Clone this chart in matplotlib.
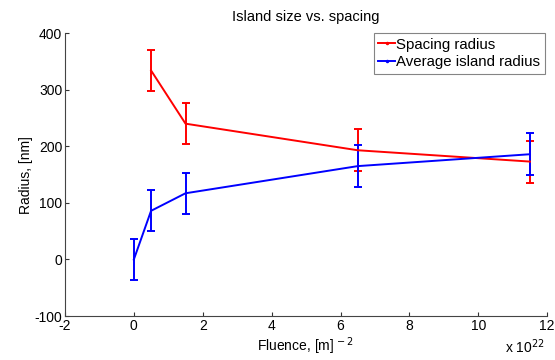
import numpy as np
import matplotlib.pyplot as plt
from matplotlib.lines import Line2D

plt.rcParams['font.family'] = ['Liberation Sans', 'DejaVu Sans']
plt.rcParams['axes.unicode_minus'] = False

# fluence in units of 1e22 m^-2
fluence_spacing = [0.5, 1.5, 6.5, 11.5]
spacing_radius = [334, 240, 193, 173]
spacing_err = [36, 36, 37, 37]

fluence_island = [0, 0.5, 1.5, 6.5, 11.5]
island_radius = [0, 86, 117, 165, 186]
island_err = [36, 36, 36, 37, 37]

fig = plt.figure(figsize=(5.55, 3.6), dpi=100)
ax = fig.add_axes([0.117, 0.122, 0.869, 0.786])

ax.errorbar(fluence_spacing, spacing_radius, yerr=spacing_err, color='red',
            lw=1.4, elinewidth=1.4, capsize=3, capthick=1.4)
ax.errorbar(fluence_island, island_radius, yerr=island_err, color='blue',
            lw=1.4, elinewidth=1.4, capsize=3, capthick=1.4)

ax.set_xlim(-2, 12)
ax.set_ylim(-100, 400)
ax.set_xticks(np.arange(-2, 13, 2))
ax.set_yticks(np.arange(-100, 401, 100))
ax.tick_params(direction='in', labelsize=10, length=3, colors='#333333',
               labelcolor='black', pad=2)
for s in ['top', 'right']:
    ax.spines[s].set_visible(False)
for s in ['left', 'bottom']:
    ax.spines[s].set_color('#444444')

ax.set_title('Island size vs. spacing', fontsize=10.5, pad=9)
ax.set_xlabel('Fluence, [m]$^{\\,-2}$', fontsize=10, labelpad=2)
ax.set_ylabel('Radius, [nm]', fontsize=10, labelpad=1)
ax.text(0.995, -0.075, 'x 10$^{22}$', transform=ax.transAxes, ha='right',
        va='top', fontsize=10)

handles = [Line2D([], [], color='red', lw=1.4, marker='.', markersize=3),
           Line2D([], [], color='blue', lw=1.4, marker='.', markersize=3)]
leg = ax.legend(handles, ['Spacing radius', 'Average island radius'],
                loc='upper right', fontsize=10.8, frameon=True, fancybox=False,
                borderpad=0.3, handlelength=1.1, handletextpad=0.1,
                labelspacing=0.25, borderaxespad=0.0,
                bbox_to_anchor=(0.995, 1.0))
leg.get_frame().set_edgecolor('#666666')
leg.get_frame().set_linewidth(0.8)

fig.savefig('out.png', dpi=100)
